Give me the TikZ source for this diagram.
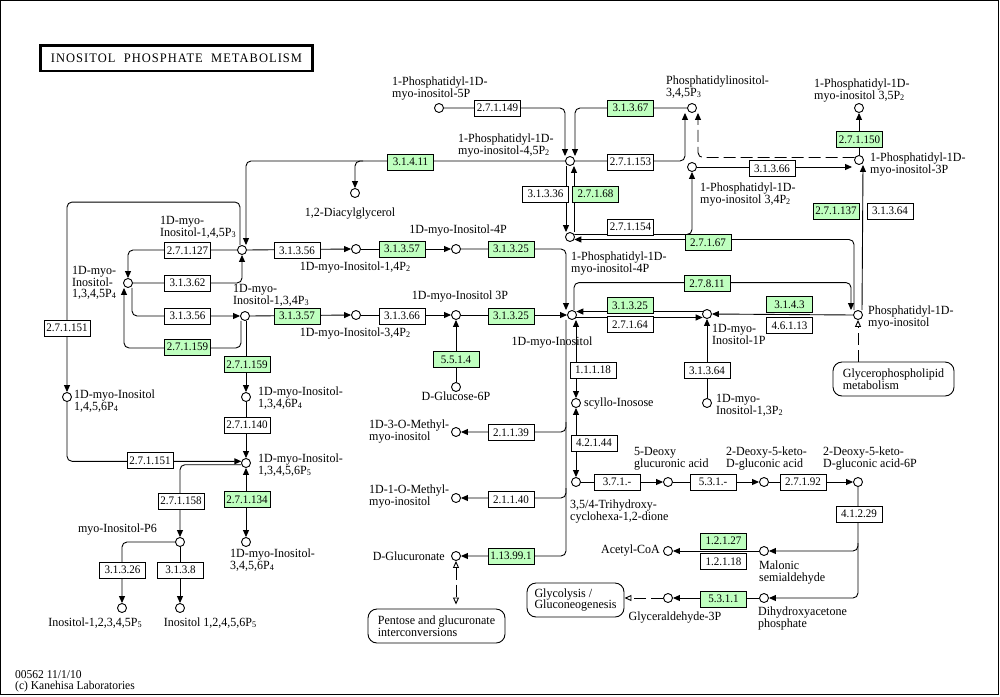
\documentclass[tikz,border=0pt]{standalone}
\usepackage{fontspec}
\setmainfont{Liberation Serif}[FakeStretch=0.96]
\usetikzlibrary{calc,arrows.meta}
\definecolor{kgreen}{RGB}{191,255,191}
\tikzset{>={Stealth[inset=0pt,length=7pt,width=6pt]}}
\tikzset{
  otri/.tip={Stealth[open,inset=0pt,length=7pt,width=6pt]},
  cpd/.style={circle, draw=black, fill=white, line width=0.9pt, minimum size=9pt, inner sep=0pt},
  enz/.style={draw=black, fill=white, line width=0.9pt, minimum width=46pt, minimum height=16pt, inner sep=0pt, font=\fontsize{11.5}{11.5}\selectfont},
  enzg/.style={enz, fill=kgreen},
  pmap/.style={draw=black, rounded corners=9pt, line width=0.9pt, align=left, inner sep=0pt, font=\fontsize{12.5}{11.7}\selectfont},
  lbl/.style={inner sep=0pt, align=left, font=\fontsize{12.5}{11.7}\selectfont},
  rxn/.style={line width=0.9pt, rounded corners=5pt},
  maplink/.style={line width=0.9pt, dash pattern=on 12pt off 5pt}
}
\newcommand{\sub}[1]{\raisebox{-1pt}{\fontsize{8.5}{8.5}\selectfont #1}}

\begin{document}
\begin{tikzpicture}[x=1pt,y=-1pt]
            \useasboundingbox (0,0) rectangle (1000,696);

            % Frame and title
            \draw[line width=1pt] (0.5,0.5) rectangle (998.5,694.5);
            \node[draw, line width=2.5pt, minimum width=272pt, minimum height=25.5pt, inner sep=0pt,
                  font=\fontsize{13}{13}\selectfont\addfontfeature{LetterSpace=8}] (title) at (176.5,58)
                  {INOSITOL\ \ PHOSPHATE\ \ METABOLISM};

            % Compounds
            \node[cpd] (pi5p) at (439,108) {};
            \node[cpd] (pip2) at (570,161) {};
            \node[cpd] (pip3) at (692,108) {};
            \node[cpd] (pi35) at (859,108) {};
            \node[cpd] (pi3p) at (859,160) {};
            \node[cpd] (pi34) at (692,167) {};
            \node[cpd] (pi4p) at (570,237) {};
            \node[cpd] (dag) at (355,193) {};
            \node[cpd] (ip3) at (242,250) {};
            \node[cpd] (ip4) at (128,283) {};
            \node[cpd] (i134) at (245,316) {};
            \node[cpd] (i14) at (356,249) {};
            \node[cpd] (i4p) at (456,249) {};
            \node[cpd] (i34) at (356,315) {};
            \node[cpd] (i3p) at (456,315) {};
            \node[cpd] (ino) at (572,315) {};
            \node[cpd] (i1p) at (707,314) {};
            \node[cpd] (pi) at (858,315) {};
            \node[cpd] (i13) at (707,403) {};
            \node[cpd] (g6p) at (456,387) {};
            \node[cpd] (scy) at (576,403) {};
            \node[cpd] (m3) at (456,432) {};
            \node[cpd] (m1) at (456,498) {};
            \node[cpd] (glcA) at (456,556) {};
            \node[cpd] (tri) at (576,482) {};
            \node[cpd] (dgl) at (668,482) {};
            \node[cpd] (dkg) at (764,482) {};
            \node[cpd] (dkg6) at (858,482) {};
            \node[cpd] (acoa) at (668,551) {};
            \node[cpd] (mal) at (764,551) {};
            \node[cpd] (g3p) at (668,598) {};
            \node[cpd] (dhap) at (764,598) {};
            \node[cpd] (i1456) at (67,397) {};
            \node[cpd] (i1346) at (246,397) {};
            \node[cpd] (ip5) at (246,463) {};
            \node[cpd] (ip6) at (180,542) {};
            \node[cpd] (i3456) at (246,542) {};
            \node[cpd] (ip5a) at (122,608) {};
            \node[cpd] (ip5b) at (180,608) {};

            % Compound names
            \node[lbl, anchor=north west] (l_pi5p) at (392,77) {1-Phosphatidyl-1D-\\myo-inositol-5P};
            \node[lbl, anchor=north west] (l_pip2) at (458,134) {1-Phosphatidyl-1D-\\myo-inositol-4,5P\sub{2}};
            \node[lbl, anchor=north west] (l_pip3) at (666,76) {Phosphatidylinositol-\\3,4,5P\sub{3}};
            \node[lbl, anchor=north west] (l_pi35) at (814,79) {1-Phosphatidyl-1D-\\myo-inositol 3,5P\sub{2}};
            \node[lbl, anchor=north west] (l_pi3p) at (870,153) {1-Phosphatidyl-1D-\\myo-inositol-3P};
            \node[lbl, anchor=north west] (l_pi34) at (700,183) {1-Phosphatidyl-1D-\\myo-inositol 3,4P\sub{2}};
            \node[lbl, anchor=north] (l_dag) at (350,208) {1,2-Diacylglycerol};
            \node[lbl, anchor=north west] (l_pi4p) at (571,252) {1-Phosphatidyl-1D-\\myo-inositol-4P};
            \node[lbl, anchor=north west] (l_ip3) at (160,216) {1D-myo-\\Inositol-1,4,5P\sub{3}};
            \node[lbl, anchor=north west] (l_ip4) at (72,266) {1D-myo-\\Inositol-\\1,3,4,5P\sub{4}};
            \node[lbl, anchor=north west] (l_i134) at (233,284) {1D-myo-\\Inositol-1,3,4P\sub{3}};
            \node[lbl, anchor=north] (l_i14) at (355,262) {1D-myo-Inositol-1,4P\sub{2}};
            \node[lbl, anchor=north] (l_i4p) at (458,225) {1D-myo-Inositol-4P};
            \node[lbl, anchor=north] (l_i34) at (355,328) {1D-myo-Inositol-3,4P\sub{2}};
            \node[lbl, anchor=north] (l_i3p) at (460,291) {1D-myo-Inositol 3P};
            \node[lbl, anchor=north] (l_ino) at (552,337) {1D-myo-Inositol};
            \node[lbl, anchor=north] (l_g6p) at (456,392) {D-Glucose-6P};
            \node[lbl, anchor=west] (l_scy) at (584,404) {scyllo-Inosose};
            \node[lbl, anchor=north west] (l_i1p) at (712,324) {1D-myo-\\Inositol-1P};
            \node[lbl, anchor=north west] (l_pi) at (868,306) {Phosphatidyl-1D-\\myo-inositol};
            \node[lbl, anchor=north west] (l_i13) at (716,394) {1D-myo-\\Inositol-1,3P\sub{2}};
            \node[lbl, anchor=north west] (l_m3) at (369,420) {1D-3-O-Methyl-\\myo-inositol};
            \node[lbl, anchor=north west] (l_m1) at (369,485) {1D-1-O-Methyl-\\myo-inositol};
            \node[lbl, anchor=east] (l_glcA) at (445,556) {D-Glucuronate};
            \node[lbl, anchor=north west] (l_dgl) at (634,447) {5-Deoxy\\glucuronic acid};
            \node[lbl, anchor=north west] (l_dkg) at (726,447) {2-Deoxy-5-keto-\\D-gluconic acid};
            \node[lbl, anchor=north west] (l_dkg6) at (823,447) {2-Deoxy-5-keto-\\D-gluconic acid-6P};
            \node[lbl, anchor=north west] (l_tri) at (570,500) {3,5/4-Trihydroxy-\\cyclohexa-1,2-dione};
            \node[lbl, anchor=east] (l_acoa) at (660,551) {Acetyl-CoA};
            \node[lbl, anchor=north west] (l_mal) at (759,561) {Malonic\\semialdehyde};
            \node[lbl, anchor=north west] (l_dhap) at (758,607) {Dihydroxyacetone\\phosphate};
            \node[lbl, anchor=north] (l_g3p) at (675,612) {Glyceraldehyde-3P};
            \node[lbl, anchor=north west] (l_i1456) at (74,390) {1D-myo-Inositol\\1,4,5,6P\sub{4}};
            \node[lbl, anchor=north west] (l_i1346) at (258,387) {1D-myo-Inositol-\\1,3,4,6P\sub{4}};
            \node[lbl, anchor=north west] (l_ip5) at (258,454) {1D-myo-Inositol-\\1,3,4,5,6P\sub{5}};
            \node[lbl, anchor=north east] (l_ip6) at (157,524) {myo-Inositol-P6};
            \node[lbl, anchor=north west] (l_i3456) at (230,549) {1D-myo-Inositol-\\3,4,5,6P\sub{4}};
            \node[lbl, anchor=north] (l_ip5a) at (95,618) {Inositol-1,2,3,4,5P\sub{5}};
            \node[lbl, anchor=north] (l_ip5b) at (210,618) {Inositol 1,2,4,5,6P\sub{5}};

            % Linked pathway maps
            \node[pmap, minimum width=97pt, minimum height=34pt] (glyc) at (575.5,600) {Glycolysis /\\Gluconeogenesis};
            \node[pmap, minimum width=137pt, minimum height=34pt] (pent) at (436.5,626) {Pentose and glucuronate\\interconversions};
            \node[pmap, minimum width=121pt, minimum height=34pt] (gpl) at (893.5,379) {Glycerophospholipid\\metabolism};

            % Phosphatidylinositol phosphates
            \draw[rxn,->] (pi5p.east) -| ([xshift=-5pt]pip2.north);
            \draw[rxn,->] (pip3.west) -| ([xshift=5pt]pip2.north);
            \draw[rxn,->] (pip2.east) -| ([xshift=-7pt]pip3.south);
            \draw[rxn,maplink,->] (pi3p.150) -| ([xshift=6pt]pip3.south);
            \draw[rxn,->] (pi34.east) -- ($(pi3p.west |- pi34.east)+(-2,0)$);
            \draw[rxn,->] (pi4p.30) -| (pi34.south);
            \draw[rxn,->] ([xshift=-4pt]pi.north) |- (pi4p.-30);
            \draw[rxn,->] ([xshift=4pt]pi.north) -- ([xshift=4pt]pi3p.south);
            \draw[rxn,->] (pi3p.north) -- (pi35.south);
            \draw[rxn,->] ([xshift=4pt]pi4p.north) -- ([xshift=4pt]pip2.south);
            \draw[rxn,->] ([xshift=-4pt]pip2.south) -- ([xshift=-4pt]pi4p.north);
            \draw[rxn,->] (pip2.west) -| ([xshift=4pt]ip3.north);
            \draw[rxn,->] ($(dag.north |- pip2)+(8,0)$) -| (dag.north);
            \draw[rxn,->] ([xshift=2pt]ino.north) -- ++(0,-27.5) -| ([xshift=-7pt]pi.north);
            \draw[rxn,->] (pi.west) -- (i1p.east);
            \draw[rxn,maplink,-otri] (pi.south |- gpl.north) -- (pi.south);

            % Inositol phosphates
            \draw[rxn,->] ([xshift=-2pt]ip3.north) -- ++(0,-43) -| (i1456.north);
            \draw[rxn,->] (ip3.west) -| (ip4.north);
            \draw[rxn,->] (ip4.east) -| (ip3.south);
            \draw[rxn,->] ([xshift=4pt]ip4.south) |- (i134.west);
            \draw[rxn,->] ([xshift=-4pt]i134.south) -- ++(0,27) -| ([xshift=-4pt]ip4.south);
            \draw[rxn,->] (i1346.north |- i134.south) -- (i1346.north);
            \draw[rxn,->] (ip3.east) -- (i14.west);
            \draw[rxn,->] (i14.east) -- (i4p.west);
            \draw[rxn,->] (i4p.east) -| ([xshift=-6pt]ino.north);
            \draw[rxn,->] (i134.east) -- (i34.west);
            \draw[rxn,->] (i34.east) -- (i3p.west);
            \draw[rxn,->] (i3p.east) -- (ino.west);
            \draw[rxn,->] (g6p.north) -- (i3p.south);
            \draw[rxn,->] (i1p.150) -- (ino.30 |- i1p.150);
            \draw[rxn,->] (ino.-30) -- (i1p.-150 |- ino.-30);
            \draw[rxn,->] (i13.north) -- (i1p.south);
            \draw[rxn,->] (i1456.south) |- (ip5.160);
            \draw[rxn,->] (i1346.south) -- (ip5.north);
            \draw[rxn,<->] (ip5.south) -- (i3456.north);
            \draw[rxn,->] (ip5.200) -| (ip6.north);
            \draw[rxn,->] (ip6.west) -| (ip5a.north);
            \draw[rxn,->] (ip6.south) -- (ip5b.north);

            % Inositol breakdown
            \coordinate (trunk) at ([xshift=-6pt]ino.south);
            \draw[rxn,->] (trunk) |- (glcA.east);
            \draw[rxn,->] ($(trunk |- m3)+(0,-10)$) |- (m3.east);
            \draw[rxn,->] ($(trunk |- m1)+(0,-10)$) |- (m1.east);
            \draw[rxn,maplink,otri-otri] (glcA.south) -- ($(glcA.south |- pent.north)+(0,-4)$);
            \draw[rxn,<->] (scy.north |- ino.south) -- (scy.north);
            \draw[rxn,<->] (scy.south) -- (tri.north);
            \draw[rxn,->] (tri.east) -- (dgl.west);
            \draw[rxn,->] (dgl.east) -- (dkg.west);
            \draw[rxn,->] (dkg.east) -- (dkg6.west);
            \draw[rxn,->] (dkg6.south) |- (dhap.east);
            \draw[rxn,->] ($(dkg6 |- mal)+(0,-8)$) |- (mal.east);
            \draw[rxn,->] (mal.west) -- (acoa.east);
            \draw[rxn,->] (dhap.west) -- (g3p.east);
            \draw[rxn,maplink,-otri] (g3p.west) -- (g3p.west -| glyc.east);

            % Enzymes
            \node[enz] (e27149) at (497.5,108) {2.7.1.149};
            \node[enzg] (e31367) at (630.5,108) {3.1.3.67};
            \node[enz] (e27153) at (630.5,162) {2.7.1.153};
            \node[enzg] (e31411) at (410.5,162) {3.1.4.11};
            \node[enz] (e31336) at (545.5,194) {3.1.3.36};
            \node[enzg] (e27168) at (595.5,194) {2.7.1.68};
            \node[enz] (e27154) at (630.5,227) {2.7.1.154};
            \node[enzg] (e27167) at (708,242.5) {2.7.1.67};
            \node[enzg] (e27811) at (707,283.5) {2.7.8.11};
            \node[enz] (e31366a) at (772,168.5) {3.1.3.66};
            \node[enzg] (e27150) at (859.5,139.5) {2.7.1.150};
            \node[enzg] (e27137) at (836,211) {2.7.1.137};
            \node[enz] (e31364a) at (890,211) {3.1.3.64};
            \node[enzg] (e3143) at (789.5,304.5) {3.1.4.3};
            \node[enz] (e46113) at (789.5,325.5) {4.6.1.13};
            \node[enzg] (e31325a) at (630,305.5) {3.1.3.25};
            \node[enz] (e27164) at (630,324.5) {2.7.1.64};
            \node[enz] (e31364b) at (707,370.5) {3.1.3.64};
            \node[enz] (e27127) at (187.5,250.5) {2.7.1.127};
            \node[enz] (e31362) at (187.5,283) {3.1.3.62};
            \node[enz] (e31356b) at (187.5,316) {3.1.3.56};
            \node[enzg] (e27159a) at (187.5,347) {2.7.1.159};
            \node[enzg] (e27159b) at (247,364.5) {2.7.1.159};
            \node[enz] (e27151a) at (67,328) {2.7.1.151};
            \node[enz] (e31356a) at (297,250.5) {3.1.3.56};
            \node[enzg] (e31357a) at (402,249) {3.1.3.57};
            \node[enzg] (e31325b) at (511,249) {3.1.3.25};
            \node[enzg] (e31357b) at (297,316) {3.1.3.57};
            \node[enz] (e31366b) at (402,316) {3.1.3.66};
            \node[enzg] (e31325c) at (511,316) {3.1.3.25};
            \node[enzg] (e5514) at (456,359.5) {5.5.1.4};
            \node[enz] (e11118) at (593,370) {1.1.1.18};
            \node[enz] (e21139) at (511,432.5) {2.1.1.39};
            \node[enz] (e21140) at (511,499.5) {2.1.1.40};
            \node[enzg] (e113991) at (511,556) {1.13.99.1};
            \node[enz] (e42144) at (594,443) {4.2.1.44};
            \node[enz] (e371) at (617,482) {3.7.1.-};
            \node[enz] (e531) at (713,482) {5.3.1.-};
            \node[enz] (e27192) at (803,482) {2.7.1.92};
            \node[enz] (e41229) at (859,514) {4.1.2.29};
            \node[enzg] (e12127) at (723.5,541) {1.2.1.27};
            \node[enz] (e12118) at (723.5,561.5) {1.2.1.18};
            \node[enzg] (e5311) at (723.5,599) {5.3.1.1};
            \node[enz] (e27140) at (247,425) {2.7.1.140};
            \node[enz] (e27151b) at (150,460.5) {2.7.1.151};
            \node[enz] (e27158) at (181,501) {2.7.1.158};
            \node[enzg] (e27134) at (247,499.5) {2.7.1.134};
            \node[enz] (e31326) at (122.5,570) {3.1.3.26};
            \node[enz] (e3138) at (180.5,570) {3.1.3.8};

            % Footer
            \node[lbl, anchor=north west, font=\fontsize{12}{11.5}\selectfont] (stamp) at (15,670) {00562 11/1/10\\(c) Kanehisa Laboratories};

        \end{tikzpicture}
\end{document}
